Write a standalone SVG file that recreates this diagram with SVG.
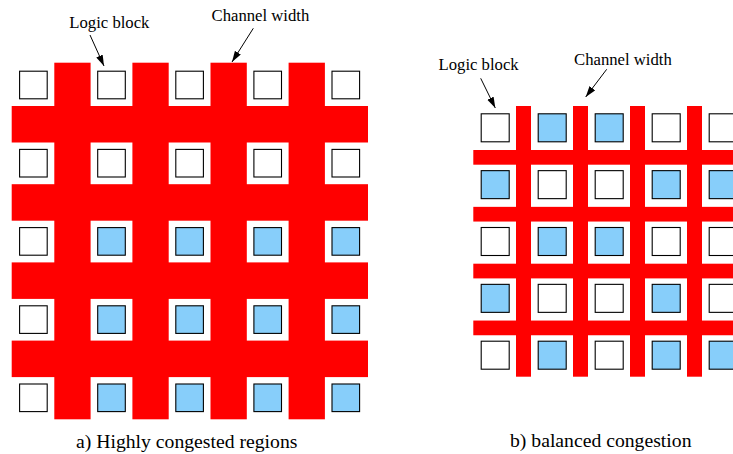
<svg xmlns="http://www.w3.org/2000/svg" width="733" height="454" viewBox="0 0 733 454">
<style>
.ch{fill:#ff0000}
.w{fill:#ffffff;stroke:#000;stroke-width:1.1}
.b{fill:#87cefa;stroke:#000;stroke-width:1.1}
.lbl{font-size:16.7px;fill:#000}
.cap{font-size:19.7px;fill:#000}
.arr{stroke:#000;stroke-width:1;fill:none;marker-end:url(#ah)}
</style>
<defs>
<marker id="ah" markerUnits="userSpaceOnUse" markerWidth="12" markerHeight="8" refX="11" refY="3.5" orient="auto">
<path d="M0,0 L11,3.5 L0,7 z" fill="#000"/>
</marker>
</defs>
<rect width="733" height="454" fill="#fff"/>

<g id="panel-a">
<g id="channels-a">
<rect class="ch" x="11.7" y="106" width="356.3" height="36.5"/>
<rect class="ch" x="11.7" y="184.2" width="356.3" height="36.5"/>
<rect class="ch" x="11.7" y="262.4" width="356.3" height="36.5"/>
<rect class="ch" x="11.7" y="340.6" width="356.3" height="36.5"/>
<rect class="ch" x="54.3" y="62.7" width="36.3" height="356.6"/>
<rect class="ch" x="132.4" y="62.7" width="36.3" height="356.6"/>
<rect class="ch" x="210.5" y="62.7" width="36.3" height="356.6"/>
<rect class="ch" x="288.6" y="62.7" width="36.3" height="356.6"/>
</g>
<g id="blocks-a">
<rect id="a-r1c1" class="w" x="19.6" y="71.2" width="27.6" height="27.6"/>
<rect id="a-r1c2" class="w" x="97.7" y="71.2" width="27.6" height="27.6"/>
<rect id="a-r1c3" class="w" x="175.8" y="71.2" width="27.6" height="27.6"/>
<rect id="a-r1c4" class="w" x="253.9" y="71.2" width="27.6" height="27.6"/>
<rect id="a-r1c5" class="w" x="332" y="71.2" width="27.6" height="27.6"/>

<rect id="a-r2c1" class="w" x="19.6" y="149.4" width="27.6" height="27.6"/>
<rect id="a-r2c2" class="w" x="97.7" y="149.4" width="27.6" height="27.6"/>
<rect id="a-r2c3" class="w" x="175.8" y="149.4" width="27.6" height="27.6"/>
<rect id="a-r2c4" class="w" x="253.9" y="149.4" width="27.6" height="27.6"/>
<rect id="a-r2c5" class="w" x="332" y="149.4" width="27.6" height="27.6"/>

<rect id="a-r3c1" class="w" x="19.6" y="227.6" width="27.6" height="27.6"/>
<rect id="a-r3c2" class="b" x="97.7" y="227.6" width="27.6" height="27.6"/>
<rect id="a-r3c3" class="b" x="175.8" y="227.6" width="27.6" height="27.6"/>
<rect id="a-r3c4" class="b" x="253.9" y="227.6" width="27.6" height="27.6"/>
<rect id="a-r3c5" class="b" x="332" y="227.6" width="27.6" height="27.6"/>

<rect id="a-r4c1" class="w" x="19.6" y="305.8" width="27.6" height="27.6"/>
<rect id="a-r4c2" class="b" x="97.7" y="305.8" width="27.6" height="27.6"/>
<rect id="a-r4c3" class="b" x="175.8" y="305.8" width="27.6" height="27.6"/>
<rect id="a-r4c4" class="b" x="253.9" y="305.8" width="27.6" height="27.6"/>
<rect id="a-r4c5" class="b" x="332" y="305.8" width="27.6" height="27.6"/>

<rect id="a-r5c1" class="w" x="19.6" y="384" width="27.6" height="27.6"/>
<rect id="a-r5c2" class="b" x="97.7" y="384" width="27.6" height="27.6"/>
<rect id="a-r5c3" class="b" x="175.8" y="384" width="27.6" height="27.6"/>
<rect id="a-r5c4" class="b" x="253.9" y="384" width="27.6" height="27.6"/>
<rect id="a-r5c5" class="b" x="332" y="384" width="27.6" height="27.6"/>
</g>
<g id="labels-a" font-family="Liberation Serif, serif">
<text class="lbl" x="69.3" y="27.5">Logic block</text>
<text class="lbl" x="211.5" y="20.7">Channel width</text>
<text class="cap" x="76" y="447.5">a) Highly congested regions</text>
</g>
</g>

<g id="panel-b">
<g id="channels-b">
<rect class="ch" x="473.3" y="150" width="270" height="14.7"/>
<rect class="ch" x="473.3" y="206.85" width="270" height="14.7"/>
<rect class="ch" x="473.3" y="263.7" width="270" height="14.7"/>
<rect class="ch" x="473.3" y="320.55" width="270" height="14.7"/>
<rect class="ch" x="516" y="106" width="15" height="270.7"/>
<rect class="ch" x="573" y="106" width="15" height="270.7"/>
<rect class="ch" x="630" y="106" width="15" height="270.7"/>
<rect class="ch" x="687" y="106" width="15" height="270.7"/>
</g>
<g id="blocks-b">
<rect id="b-r1c1" class="w" x="481.2" y="113.8" width="28" height="28"/>
<rect id="b-r1c2" class="b" x="538.2" y="113.8" width="28" height="28"/>
<rect id="b-r1c3" class="b" x="595.2" y="113.8" width="28" height="28"/>
<rect id="b-r1c4" class="w" x="652.2" y="113.8" width="28" height="28"/>
<rect id="b-r1c5" class="w" x="709.2" y="113.8" width="28" height="28"/>

<rect id="b-r2c1" class="b" x="481.2" y="170.65" width="28" height="28"/>
<rect id="b-r2c2" class="w" x="538.2" y="170.65" width="28" height="28"/>
<rect id="b-r2c3" class="w" x="595.2" y="170.65" width="28" height="28"/>
<rect id="b-r2c4" class="b" x="652.2" y="170.65" width="28" height="28"/>
<rect id="b-r2c5" class="b" x="709.2" y="170.65" width="28" height="28"/>

<rect id="b-r3c1" class="w" x="481.2" y="227.5" width="28" height="28"/>
<rect id="b-r3c2" class="b" x="538.2" y="227.5" width="28" height="28"/>
<rect id="b-r3c3" class="b" x="595.2" y="227.5" width="28" height="28"/>
<rect id="b-r3c4" class="w" x="652.2" y="227.5" width="28" height="28"/>
<rect id="b-r3c5" class="w" x="709.2" y="227.5" width="28" height="28"/>

<rect id="b-r4c1" class="b" x="481.2" y="284.35" width="28" height="28"/>
<rect id="b-r4c2" class="w" x="538.2" y="284.35" width="28" height="28"/>
<rect id="b-r4c3" class="w" x="595.2" y="284.35" width="28" height="28"/>
<rect id="b-r4c4" class="b" x="652.2" y="284.35" width="28" height="28"/>
<rect id="b-r4c5" class="w" x="709.2" y="284.35" width="28" height="28"/>

<rect id="b-r5c1" class="w" x="481.2" y="341.2" width="28" height="28"/>
<rect id="b-r5c2" class="b" x="538.2" y="341.2" width="28" height="28"/>
<rect id="b-r5c3" class="w" x="595.2" y="341.2" width="28" height="28"/>
<rect id="b-r5c4" class="b" x="652.2" y="341.2" width="28" height="28"/>
<rect id="b-r5c5" class="b" x="709.2" y="341.2" width="28" height="28"/>
</g>
<g id="labels-b" font-family="Liberation Serif, serif">
<text class="lbl" x="438.5" y="70.3">Logic block</text>
<text class="lbl" x="574" y="64.8">Channel width</text>
<text class="cap" x="510" y="446.7">b) balanced congestion</text>
</g>
</g>

<g id="connectors">
<line class="arr" x1="90" y1="35" x2="104" y2="66"/>
<line class="arr" x1="253.3" y1="28.3" x2="232" y2="62"/>
<line class="arr" x1="480.7" y1="78.3" x2="495.3" y2="108"/>
<line class="arr" x1="606.7" y1="69.3" x2="585.7" y2="97"/>
</g>
</svg>
